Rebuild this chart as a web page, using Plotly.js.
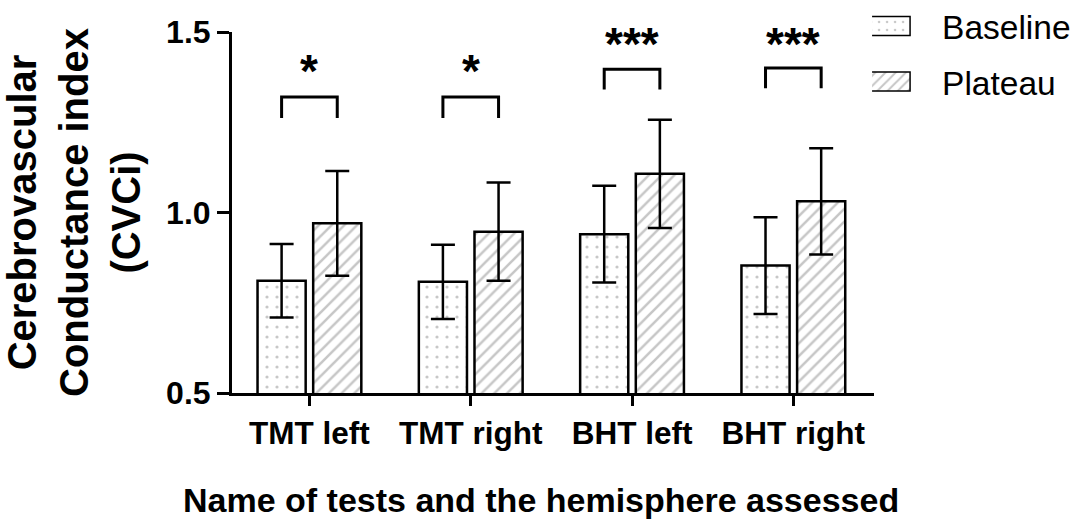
<!DOCTYPE html>
<html>
<head>
<meta charset="utf-8">
<script src="https://cdn.plot.ly/plotly-3.0.1.min.js"></script>
<style>
  html, body { margin: 0; padding: 0; background: #ffffff; }
  #chart { width: 1078px; height: 519px; }
</style>
</head>
<body>
<div id="chart"></div>
<script>
// Test / hemisphere categories
const tests = ['TMT left', 'TMT right', 'BHT left', 'BHT right'];

// Cerebrovascular conductance index, mean and SD
const baselineMean = [0.811, 0.808, 0.940, 0.853];
const baselineSD   = [0.102, 0.103, 0.134, 0.134];
const plateauMean  = [0.970, 0.947, 1.107, 1.031];
const plateauSD    = [0.145, 0.136, 0.150, 0.147];

// Significance of baseline vs plateau per test
const sigLabels = ['*', '*', '***', '***'];

// Axis ticks
const yTicks = [0.5, 1.0, 1.5];

const FONT = 'Liberation Sans, Arial, Helvetica, sans-serif';
const BAR_GAP = 0.31;
const GROUP_GAP = 0.135;
// half distance between paired bar centres, in category units
const pairOffset = (1 - BAR_GAP) / 4;

const baseline = {
  type: 'bar',
  name: 'Baseline',
  x: tests,
  y: baselineMean,
  error_y: { type: 'data', array: baselineSD, visible: true, color: '#000', thickness: 2.5, width: 12 },
  marker: {
    color: '#ffffff',
    line: { color: '#000', width: 2.5 },
    pattern: { shape: '.', fgcolor: '#8f8f8f', bgcolor: '#ffffff', size: 10, solidity: 0.08, fillmode: 'overlay' }
  },
  legendgroup: 'b'
};

const plateau = {
  type: 'bar',
  name: 'Plateau',
  x: tests,
  y: plateauMean,
  error_y: { type: 'data', array: plateauSD, visible: true, color: '#000', thickness: 2.5, width: 12 },
  marker: {
    color: '#ffffff',
    line: { color: '#000', width: 2.5 },
    pattern: { shape: '/', fgcolor: '#8e8e8e', bgcolor: '#ffffff', size: 9, solidity: 0.28, fillmode: 'overlay' }
  },
  legendgroup: 'p'
};

// Bracket levels for the significance markers
const bracketLevels = [
  { top: 1.320, foot: 1.262, star: 1.393 },
  { top: 1.320, foot: 1.262, star: 1.393 },
  { top: 1.397, foot: 1.341, star: 1.467 },
  { top: 1.400, foot: 1.344, star: 1.467 }
];

const shapes = [];
const annotations = [];
tests.forEach((t, i) => {
  const lv = bracketLevels[i];
  const x0 = i - pairOffset, x1 = i + pairOffset;
  shapes.push({
    type: 'path', xref: 'x', yref: 'y',
    path: `M ${x0},${lv.foot} L ${x0},${lv.top} L ${x1},${lv.top} L ${x1},${lv.foot}`,
    line: { color: '#000', width: 3 }
  });
  annotations.push({
    xref: 'x', yref: 'y', x: i, y: lv.star,
    text: sigLabels[i], showarrow: false,
    xanchor: 'center', yanchor: 'middle',
    font: { family: FONT, size: 46, color: '#000', weight: 'bold' }
  });
});

// x-axis title, set slightly left of the axis centre
annotations.push({
  xref: 'paper', yref: 'paper', x: 0.481, y: -0.296,
  xanchor: 'center', yanchor: 'middle', showarrow: false,
  text: 'Name of tests and the hemisphere assessed',
  font: { family: FONT, size: 34, color: '#000', weight: 'bold' }
});

const layout = {
  width: 1078, height: 519,
  margin: { l: 232, r: 204, t: 32, b: 126, pad: 0, autoexpand: false },
  paper_bgcolor: '#ffffff', plot_bgcolor: '#ffffff',
  barmode: 'group', bargap: BAR_GAP, bargroupgap: GROUP_GAP,
  font: { family: FONT, color: '#000' },
  xaxis: {
    type: 'category',
    range: [-0.48, 3.5],
    showline: true, linecolor: '#000', linewidth: 3,
    ticks: 'outside', ticklen: 10, tickwidth: 3, tickcolor: '#000',
    showgrid: false, zeroline: false,
    tickfont: { family: FONT, size: 31.5, color: '#000', weight: 'bold' },
    automargin: false
  },
  yaxis: {
    range: [0.5, 1.5],
    tickvals: yTicks, tickformat: '.1f',
    showline: true, linecolor: '#000', linewidth: 3,
    ticks: 'outside', ticklen: 12, tickwidth: 3, tickcolor: '#000',
    showgrid: false, zeroline: false,
    tickfont: { family: FONT, size: 32, color: '#000', weight: 'bold' },
    title: { text: 'Cerebrovascular<br>Conductance index<br>(CVCi)', standoff: 16,
             font: { family: FONT, size: 40, color: '#000', weight: 'bold' } },
    automargin: false
  },
  showlegend: true,
  legend: {
    x: 0.997, xanchor: 'left', y: 1.095, yanchor: 'top',
    bgcolor: 'rgba(0,0,0,0)',
    font: { family: FONT, size: 33.5, color: '#000' },
    itemwidth: 60,
    traceorder: 'grouped',
    tracegroupgap: 9
  },
  shapes: shapes,
  annotations: annotations
};

const gd = document.getElementById('chart');
Plotly.newPlot(gd, [baseline, plateau], layout, { staticPlot: true, displayModeBar: false })
  .then(() => {
    // wider legend swatches, set a little left of the default symbol slot
    gd.querySelectorAll('.legend .legendpoints path').forEach(p => {
      p.setAttribute('d', 'M-39,-9.5H3V9.5H-39Z');
      p.style.strokeWidth = '1.5px';
    });
  });
</script>
</body>
</html>
